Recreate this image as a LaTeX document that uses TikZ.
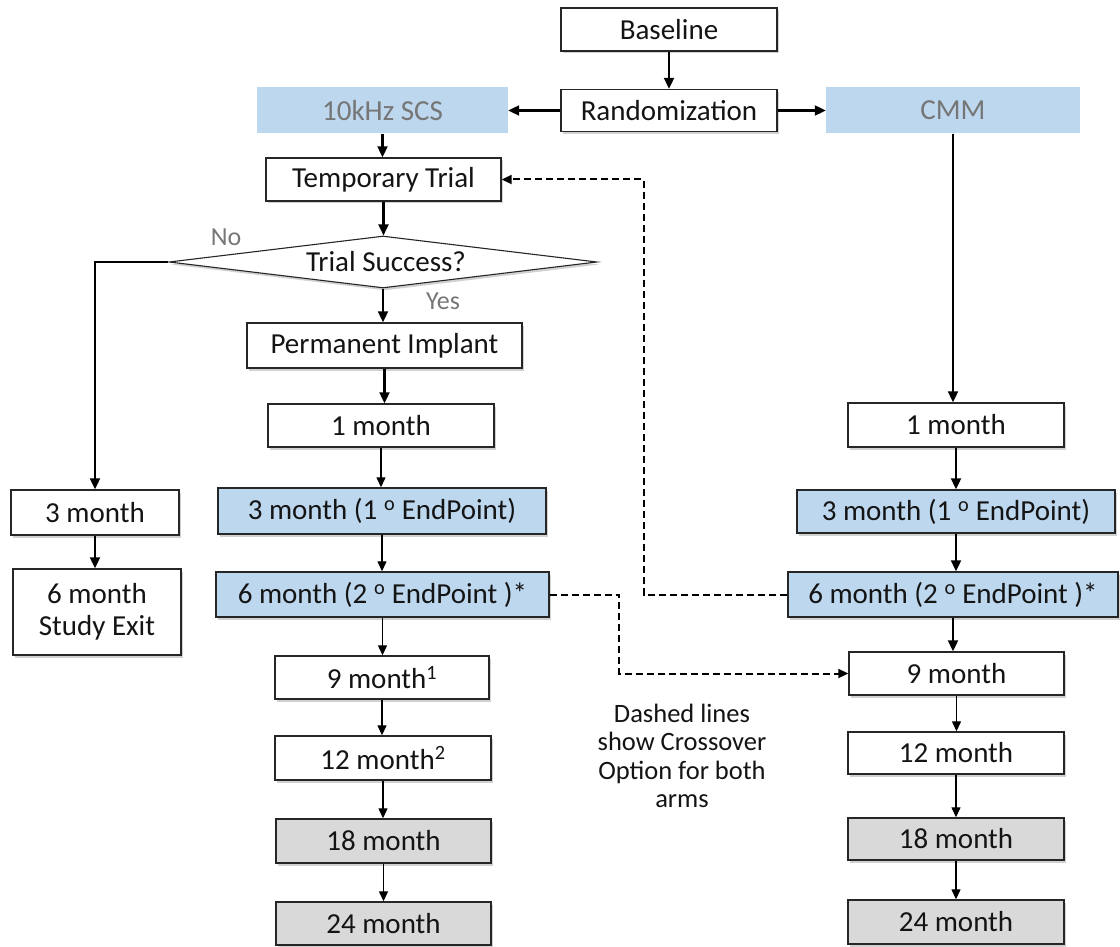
\documentclass[tikz,border=0pt]{standalone}
\usepackage{fontspec}
\setmainfont{Carlito}
\usetikzlibrary{arrows.meta,shapes.geometric,shadows}
\definecolor{boxblue}{RGB}{189,215,238}
\definecolor{boxgray}{RGB}{217,217,217}
\definecolor{lblgray}{RGB}{118,118,118}
\definecolor{txt}{RGB}{20,20,20}
\tikzset{
  shd/.style={drop shadow={shadow xshift=2pt,shadow yshift=-2.5pt,opacity=0.3,fill=black!60}},
  box/.style={draw=black!85,line width=1.4pt,fill=white,inner sep=0pt,align=center,text=txt,
     font=\fontsize{29}{32}\selectfont,shd},
  bluebox/.style={box,fill=boxblue},
  graybox/.style={box,fill=boxgray},
  armbox/.style={fill=boxblue,inner sep=0pt,text=lblgray,font=\fontsize{29}{32}\selectfont,
     minimum width=252pt,minimum height=46pt},
  lbl/.style={text=lblgray,font=\fontsize{26}{28}\selectfont,inner sep=0pt},
  thk/.style={line width=2.1pt,-{Triangle[length=11pt,width=10pt]}},
  thn/.style={line width=1.3pt,-{Triangle[length=10pt,width=9pt]}},
  dsh/.style={line width=2pt,dash pattern=on 7pt off 4pt},
}
\begin{document}
\begin{tikzpicture}[x=1pt,y=-1pt]
\useasboundingbox (0,0) rectangle (1120,947);
% top
\node[box,minimum width=216pt,minimum height=43pt] (base) at (669,29.5) {Baseline};
\node[box,minimum width=216pt,minimum height=42pt] (rand) at (669,110.5) {Randomization};
\node[armbox,minimum width=251pt] (scs) at (382.5,110.5) {10kHz SCS};
\node[armbox,minimum width=254pt] (cmm) at (953,110.5) {CMM};
% left arm
\node[box,minimum width=235pt,minimum height=43pt] (temp) at (383.5,179.5) {Temporary Trial};
\node[diamond,draw=black!85,line width=1.1pt,fill=white,inner sep=0pt,shd,
      minimum width=428pt,minimum height=52pt] (dia) at (383,262) {};
\node[font=\fontsize{29}{32}\selectfont,text=txt,inner sep=0pt] (diatxt) at (386,262) {Trial Success?};
\node[box,minimum width=275pt,minimum height=45pt] (perm) at (384.5,345.5) {Permanent Implant};
\node[box,minimum width=226pt,minimum height=43pt] (m1L) at (381,425.5) {1 month};
\node[bluebox,minimum width=328pt,minimum height=46pt] (m3L) at (382,511) {3 month (1 \textsuperscript{o} EndPoint)};
\node[bluebox,minimum width=333pt,minimum height=45pt] (m6L) at (382.5,594.5) {6 month (2 \textsuperscript{o} EndPoint )*};
\node[box,minimum width=214pt,minimum height=43pt] (m9L) at (382,677.5) {9 month\textsuperscript{1}};
\node[box,minimum width=216pt,minimum height=44pt] (m12L) at (383,758) {12 month\textsuperscript{2}};
\node[graybox,minimum width=215pt,minimum height=44pt] (m18L) at (383.5,841) {18 month};
\node[graybox,minimum width=215pt,minimum height=43pt] (m24L) at (383.5,923.5) {24 month};
% exit
\node[box,minimum width=168pt,minimum height=45pt] (x3) at (95,512.5) {3 month};
\node[box,minimum width=168pt,minimum height=86pt] (x6) at (97,612) {6 month\\Study Exit};
% right arm
\node[box,minimum width=216pt,minimum height=44pt] (m1R) at (956,425) {1 month};
\node[bluebox,minimum width=318pt,minimum height=43pt] (m3R) at (956,511.5) {3 month (1 \textsuperscript{o} EndPoint)};
\node[bluebox,minimum width=330pt,minimum height=45pt] (m6R) at (953,594.5) {6 month (2 \textsuperscript{o} EndPoint )*};
\node[box,minimum width=215pt,minimum height=43pt] (m9R) at (956.5,673.5) {9 month};
\node[box,minimum width=216pt,minimum height=42pt] (m12R) at (956,753) {12 month};
\node[graybox,minimum width=216pt,minimum height=42pt] (m18R) at (956,839) {18 month};
\node[graybox,minimum width=216pt,minimum height=44pt] (m24R) at (956,922) {24 month};
% labels
\node[lbl] (no) at (226,237) {No};
\node[lbl] (yes) at (443,301) {Yes};
\node[align=center,inner sep=0pt,text=txt,font=\fontsize{26.5}{28.5}\selectfont] (note) at (682,756)
  {Dashed lines\\show Crossover\\Option for both\\arms};
% connectors
\draw[thk] (base.south) -- (rand.north);
\draw[thk] (rand.west) -- (rand.west -| scs.east);
\draw[thk] (rand.east) -- (rand.east -| cmm.west);
\draw[thk] (scs.south) -- (scs.south |- temp.north);
\draw[thk] (temp.south) -- (temp.south |- dia.north);
\draw[thk] (dia.south) -- (dia.south |- perm.north);
\draw[thk] (dia.west) -- (dia.west -| x3.north) -- (x3.north);
\draw[thk] (perm.south) -- (perm.south |- m1L.north);
\draw[thn] (m1L.south) -- (m1L.south |- m3L.north);
\draw[thn] (m3L.south) -- (m3L.south |- m6L.north);
\draw[thn] (m6L.south) -- (m6L.south |- m9L.north);
\draw[thn] (m9L.south) -- (m9L.south |- m12L.north);
\draw[thn] (m12L.south) -- (m12L.south |- m18L.north);
\draw[thn] (m18L.south) -- (m18L.south |- m24L.north);
\draw[thk] (x3.south) -- (x3.south |- x6.north);
\draw[thk] (cmm.south) -- (cmm.south |- m1R.north);
\draw[thk] (m1R.south) -- (m1R.south |- m3R.north);
\draw[thk] (m3R.south) -- (m3R.south |- m6R.north);
\draw[thk] (m6R.south) -- (m6R.south |- m9R.north);
\draw[thn] (m9R.south) -- (m9R.south |- m12R.north);
\draw[thn] (m12R.south) -- (m12R.south |- m18R.north);
\draw[thn] (m18R.south) -- (m18R.south |- m24R.north);
% dashed crossover
\coordinate (cx1) at (644,400);
\coordinate (cx2) at (619,640);
\draw[dsh,-{Triangle[length=10pt,width=9pt]}] (m6R.west) -- (m6R.west -| cx1) -- (cx1 |- temp.east) -- (temp.east);
\draw[dsh,-{Triangle[length=10pt,width=9pt]}] (m6L.east) -- (m6L.east -| cx2) -- (cx2 |- m9R.west) -- (m9R.west);
\end{tikzpicture}
\end{document}
